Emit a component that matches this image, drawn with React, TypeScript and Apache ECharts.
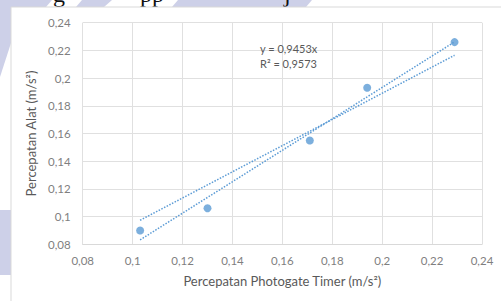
import React, { useEffect, useRef } from "react";
import * as echarts from "echarts";

const xValues = [0.103, 0.130, 0.171, 0.194, 0.229];
const yValues = [0.090, 0.106, 0.155, 0.193, 0.226];
const xTicks = [0.08, 0.1, 0.12, 0.14, 0.16, 0.18, 0.2, 0.22, 0.24];
const yTicks = [0.08, 0.1, 0.12, 0.14, 0.16, 0.18, 0.2, 0.22, 0.24];
const originSlope = 0.9453;
const equationLines = ["y = 0,9453x", "R² = 0,9573"];
const xTitle = "Percepatan Photogate Timer (m/s²)";
const yTitle = "Percepatan Alat (m/s²)";

const fmt = (v: number) => String(parseFloat(v.toFixed(2))).replace(".", ",");

function regression(xs: number[], ys: number[]) {
  const n = xs.length;
  const mx = xs.reduce((a, b) => a + b, 0) / n;
  const my = ys.reduce((a, b) => a + b, 0) / n;
  let sxy = 0, sxx = 0;
  for (let i = 0; i < n; i++) {
    sxy += (xs[i] - mx) * (ys[i] - my);
    sxx += (xs[i] - mx) ** 2;
  }
  const slope = sxy / sxx;
  return { slope, intercept: my - slope * mx };
}

export default function App() {
  const ref = useRef<HTMLDivElement>(null);
  useEffect(() => {
    if (!ref.current) return;
    const chart = echarts.init(ref.current, undefined, { renderer: "svg" });
    const xMin = Math.min(...xValues);
    const xMax = Math.max(...xValues);
    const reg = regression(xValues, yValues);
    const blue = "#5b9bd5";
    const lav = "#cdd0e8";
    const font = "Lato, 'Open Sans', sans-serif";
    chart.setOption({
      animation: false,
      backgroundColor: "#ffffff",
      graphic: [
        { type: "polygon", z: -30, shape: { points: [[0, 0], [11, 0], [11, 43], [0, 77]] }, style: { fill: lav } },
        { type: "rect", z: -30, shape: { x: 0, y: 210, width: 11, height: 65 }, style: { fill: lav } },
        { type: "polygon", z: -30, shape: { points: [[0, 0], [52, 0], [46, 7], [0, 7]] }, style: { fill: lav } },
        { type: "polygon", z: -30, shape: { points: [[82, 0], [112, 0], [104, 7], [76, 7]] }, style: { fill: lav } },
        { type: "polygon", z: -30, shape: { points: [[178, 0], [312, 0], [306, 7], [172, 7]] }, style: { fill: lav } },
        { type: "text", z: -20, x: 53, y: 6, style: { text: "g", font: "24px 'Liberation Serif', serif", fill: "#111", verticalAlign: "bottom" } },
        { type: "text", z: -20, x: 140, y: 6, style: { text: "pp", font: "24px 'Liberation Serif', serif", fill: "#111", verticalAlign: "bottom" } },
        { type: "text", z: -20, x: 284, y: 6, style: { text: "j", font: "24px 'Liberation Serif', serif", fill: "#111", verticalAlign: "bottom" } },
        { type: "rect", z: -10, shape: { x: 11, y: 7, width: 520, height: 320 }, style: { fill: "#ffffff", stroke: "#d9d9d9", lineWidth: 1 } },
        {
          type: "text", z: 10, x: 260, y: 41,
          style: { text: equationLines.join("\n"), font: "11px " + font, fill: "#595959", lineHeight: 15 },
        },
      ],
      grid: { left: 82.7, right: 19, top: 22.7, bottom: 56.7, containLabel: false },
      xAxis: {
        type: "value",
        min: xTicks[0],
        max: xTicks[xTicks.length - 1],
        interval: 0.02,
        name: xTitle,
        nameLocation: "middle",
        nameGap: 30,
        nameTextStyle: { fontFamily: font, fontSize: 13, color: "#595959" },
        axisLine: { show: true, lineStyle: { color: "#d9d9d9" } },
        axisTick: { show: false },
        splitLine: { show: true, lineStyle: { color: "#e0e0e0" } },
        axisLabel: { formatter: fmt, fontFamily: font, fontSize: 11.5, color: "#7f7f7f", margin: 10 },
      },
      yAxis: {
        type: "value",
        min: yTicks[0],
        max: yTicks[yTicks.length - 1],
        interval: 0.02,
        name: yTitle,
        nameLocation: "middle",
        nameGap: 42,
        nameTextStyle: { fontFamily: font, fontSize: 13, color: "#595959" },
        axisLine: { show: false },
        axisTick: { show: false },
        splitLine: { show: true, lineStyle: { color: "#e0e0e0" } },
        axisLabel: { formatter: fmt, fontFamily: font, fontSize: 11.5, color: "#7f7f7f", margin: 12 },
      },
      series: [
        {
          type: "line",
          data: [[xMin, originSlope * xMin], [xMax, originSlope * xMax]],
          showSymbol: false,
          lineStyle: { color: blue, width: 1.5, type: "dotted" },
          z: 3,
        },
        {
          type: "line",
          data: [[xMin, reg.slope * xMin + reg.intercept], [xMax, reg.slope * xMax + reg.intercept]],
          showSymbol: false,
          lineStyle: { color: blue, width: 1.5, type: "dotted" },
          z: 3,
        },
        {
          type: "scatter",
          data: xValues.map((x, i) => [x, yValues[i]]),
          symbolSize: 8,
          itemStyle: { color: blue },
          z: 4,
        },
      ],
    });
    return () => chart.dispose();
  }, []);
  return <div ref={ref} style={{ position: "absolute", left: 0, top: 0, width: 501, height: 301 }} />;
}
